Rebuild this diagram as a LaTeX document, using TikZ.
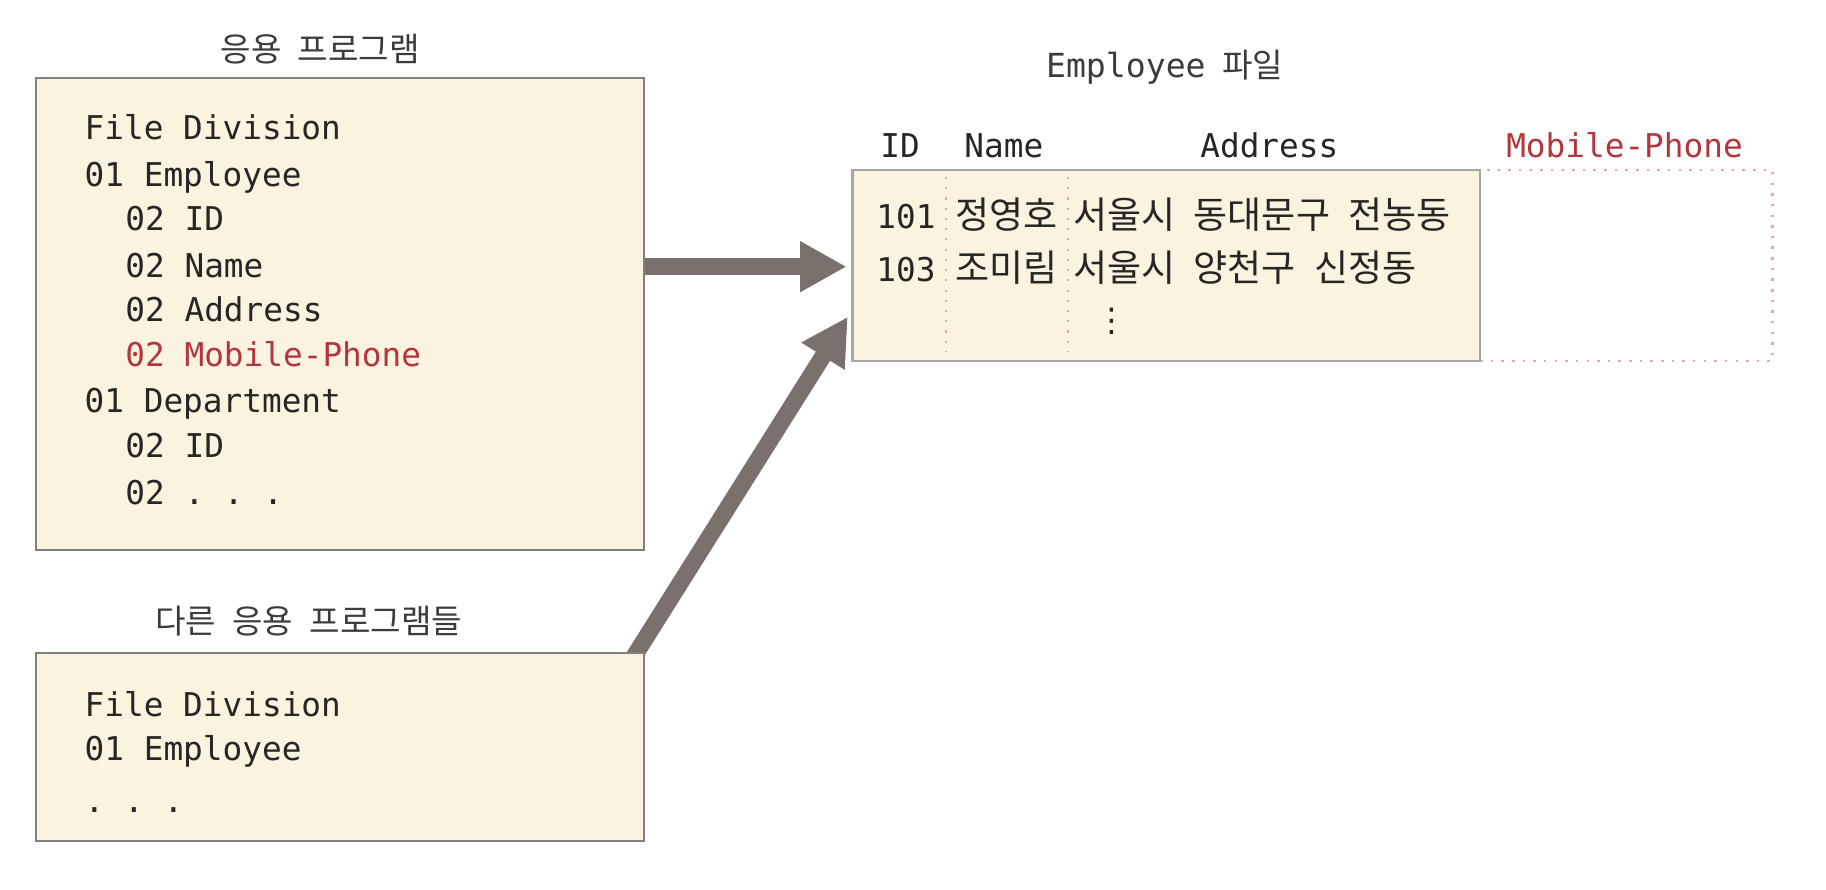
\documentclass[tikz,border=0pt]{standalone}
\usepackage{fontspec}
\setmainfont{Noto Sans CJK KR}[WordSpace=2.2]
\setmonofont{DejaVu Sans Mono}
\newfontfamily\symfont{DejaVu Sans}
\usetikzlibrary{arrows.meta,positioning,backgrounds}
\definecolor{paper}{HTML}{FAF3DF}
\definecolor{frame}{HTML}{808080}
\definecolor{ink}{HTML}{262626}
\definecolor{newfield}{HTML}{B3363F}
\definecolor{flow}{HTML}{7A716C}
\definecolor{guide}{HTML}{E9A7A0}

\begin{document}
\begin{tikzpicture}[x=0.1mm,y=-0.1mm,
  progbox/.style={draw=frame,fill=paper,line width=0.5pt,inner sep=0},
  code/.style={font=\ttfamily\fontsize{8}{10}\selectfont,text=ink,inner sep=0,anchor=base west},
  cell/.style={font=\fontsize{9.05}{10}\selectfont,text=ink,inner sep=0,anchor=base},
  head/.style={font=\fontsize{8.1}{10}\selectfont,text=ink!90,inner sep=0},
  bigarrow/.style={draw=flow,line width=1.45mm,-{Triangle[length=4mm,width=4.1mm]}}]
  \useasboundingbox (0,0) rectangle (1568,764);

  % Application program
  \node[head] (apptitle) at (275,42) {응용 프로그램};
  \node[progbox,minimum width=52.2mm,minimum height=40.5mm] (app) at (292,269.5) {};
  \node[code] (a1) at (72,120) {File Division};
  \node[code] (a2) at (72,160) {01 Employee};
  \node[code] (a3) at (107,198) {02 ID};
  \node[code] (a4) at (107,238) {02 Name};
  \node[code] (a5) at (107,276) {02 Address};
  \node[code,text=newfield] (a6) at (107,315) {02 Mobile-Phone};
  \node[code] (a7) at (72,354) {01 Department};
  \node[code] (a8) at (107,393) {02 ID};
  \node[code] (a9) at (107,433) {02 . . .};

  % Other application programs
  \node[head] (othertitle) at (265,533) {다른 응용 프로그램들};
  \node[progbox,minimum width=52.2mm,minimum height=16.1mm] (other) at (292,641.5) {};
  \node[code] (o1) at (72,615) {File Division};
  \node[code] (o2) at (72,653) {01 Employee};
  \node[code] (o3) at (72,698) {. . .};

  % Employee file
  \node[head] (filetitle) at (1000,58) {{\ttfamily Employee} 파일};
  \node[draw=guide,dotted,line width=0.6pt,minimum width=25.1mm,minimum height=16.4mm] (phone) at (1396.5,228) {};
  \node[draw=frame!70,fill=paper,line width=0.6pt,minimum width=53.9mm,minimum height=16.4mm] (tbl) at (1001.5,228) {};
  \draw[guide,dotted,line width=0.5pt] (812,152) -- (812,302);
  \draw[guide,dotted,line width=0.5pt] (917,152) -- (917,302);

  \node[code,anchor=base] (hid) at (773,135) {ID};
  \node[code,anchor=base] (hname) at (862,135) {Name};
  \node[code,anchor=base] (haddr) at (1090,135) {Address};
  \node[code,anchor=base,text=newfield] (hphone) at (1395,135) {Mobile-Phone};

  \node[code,anchor=base] (r1id) at (778,196) {101};
  \node[cell] (r1name) at (864,196) {정영호};
  \node[cell,anchor=base west] (r1addr) at (921,196) {서울시 동대문구 전농동};
  \node[code,anchor=base] (r2id) at (778,242) {103};
  \node[cell] (r2name) at (864,242) {조미림};
  \node[cell,anchor=base west] (r2addr) at (921,242) {서울시 양천구 신정동};
  \node[text=ink,inner sep=0,font=\symfont\fontsize{8}{9}\selectfont] (more) at (955,276) {⋮};

  % Flows into the file
  \coordinate (tip1) at (727,229);
  \coordinate (tip2) at (728,272);
  \coordinate (foot2) at (543,566);
  \begin{scope}[on background layer]
    \draw[bigarrow] (app.east |- tip1) -- (tip1);
    \draw[bigarrow] (foot2) -- (tip2);
  \end{scope}
\end{tikzpicture}
\end{document}
